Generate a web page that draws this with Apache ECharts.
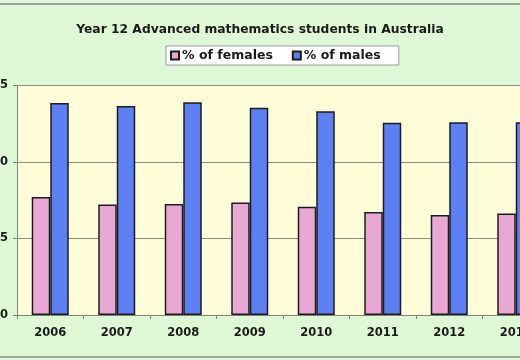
<!DOCTYPE html>
<html>
<head>
<meta charset="utf-8">
<script src="https://cdn.jsdelivr.net/npm/echarts@6/dist/echarts.min.js"></script>
<style>
html,body{margin:0;padding:0;background:#def8d6;}
#c{width:520px;height:360px;}
</style>
</head>
<body>
<div id="c"></div>
<script>
var titleText = 'Year 12 Advanced mathematics students in Australia';
var years = ['2006','2007','2008','2009','2010','2011','2012','2013'];
var females = [7.72, 7.22, 7.26, 7.36, 7.07, 6.73, 6.53, 6.64];
var males = [13.86, 13.66, 13.9, 13.55, 13.31, 12.57, 12.6, 12.6];
var seriesNames = ['% of females', '% of males'];
var yTicks = [0, 5, 10, 15];

var chart = echarts.init(document.getElementById('c'), null, {renderer:'canvas'});
var font = 'DejaVu Sans, Verdana, sans-serif';
chart.setOption({
  backgroundColor: '#def8d6',
  animation: false,
  title: {
    text: titleText, left: 'center', top: 19,
    textStyle: {fontFamily: font, fontSize: 12.3, fontWeight: 'bold', color: '#1a1a1a'}
  },
  legend: {
    left: 166, top: 46,
    padding: [3, 18, 3, 4],
    backgroundColor: '#ffffff', borderColor: '#9a9a9a', borderWidth: 1,
    itemWidth: 8, itemHeight: 8, itemGap: 19,
    icon: 'rect',
    textStyle: {fontFamily: font, fontSize: 12.5, fontWeight: 'bold', color: '#1a1a1a', padding: [0,0,0,-2]},
    data: seriesNames
  },
  graphic: [{
    type: 'rect', silent: true, z: -1,
    shape: {x: -5, y: 4, width: 530, height: 353},
    style: {fill: 'none', stroke: '#a0a0a0', lineWidth: 2}
  }],
  grid: {left: 17, top: 85.5, width: 532, height: 229.5, outerBoundsMode: 'none', containLabel: false,
         backgroundColor: '#fffcd8', show: true, borderWidth: 0},
  xAxis: {
    type: 'category', data: years,
    axisLine: {lineStyle: {color: '#808080', width: 1}},
    axisTick: {show: true, length: 4, lineStyle: {color: '#808080'}},
    axisLabel: {fontFamily: font, fontSize: 11.5, fontWeight: 'bold', color: '#1a1a1a', margin: 12}
  },
  yAxis: {
    type: 'value', min: yTicks[0], max: yTicks[yTicks.length-1], interval: 5,
    axisLine: {show: true, lineStyle: {color: '#808080', width: 1}},
    axisTick: {show: true, length: 4, lineStyle: {color: '#808080'}},
    splitLine: {lineStyle: {color: '#8e8e7e', width: 1}},
    axisLabel: {fontFamily: font, fontSize: 11.5, fontWeight: 'bold', color: '#1a1a1a', margin: 9}
  },
  series: [{
    name: seriesNames[0], type: 'bar', data: females,
    barWidth: 18.5, barGap: '0%',
    itemStyle: {color: '#e8a8d3', borderColor: '#1c1c1c', borderWidth: 1.5}
  }, {
    name: seriesNames[1], type: 'bar', data: males,
    barWidth: 18.5, barGap: '0%',
    itemStyle: {color: '#5c7ff2', borderColor: '#1c1c1c', borderWidth: 1.5}
  }]
});
</script>
</body>
</html>
